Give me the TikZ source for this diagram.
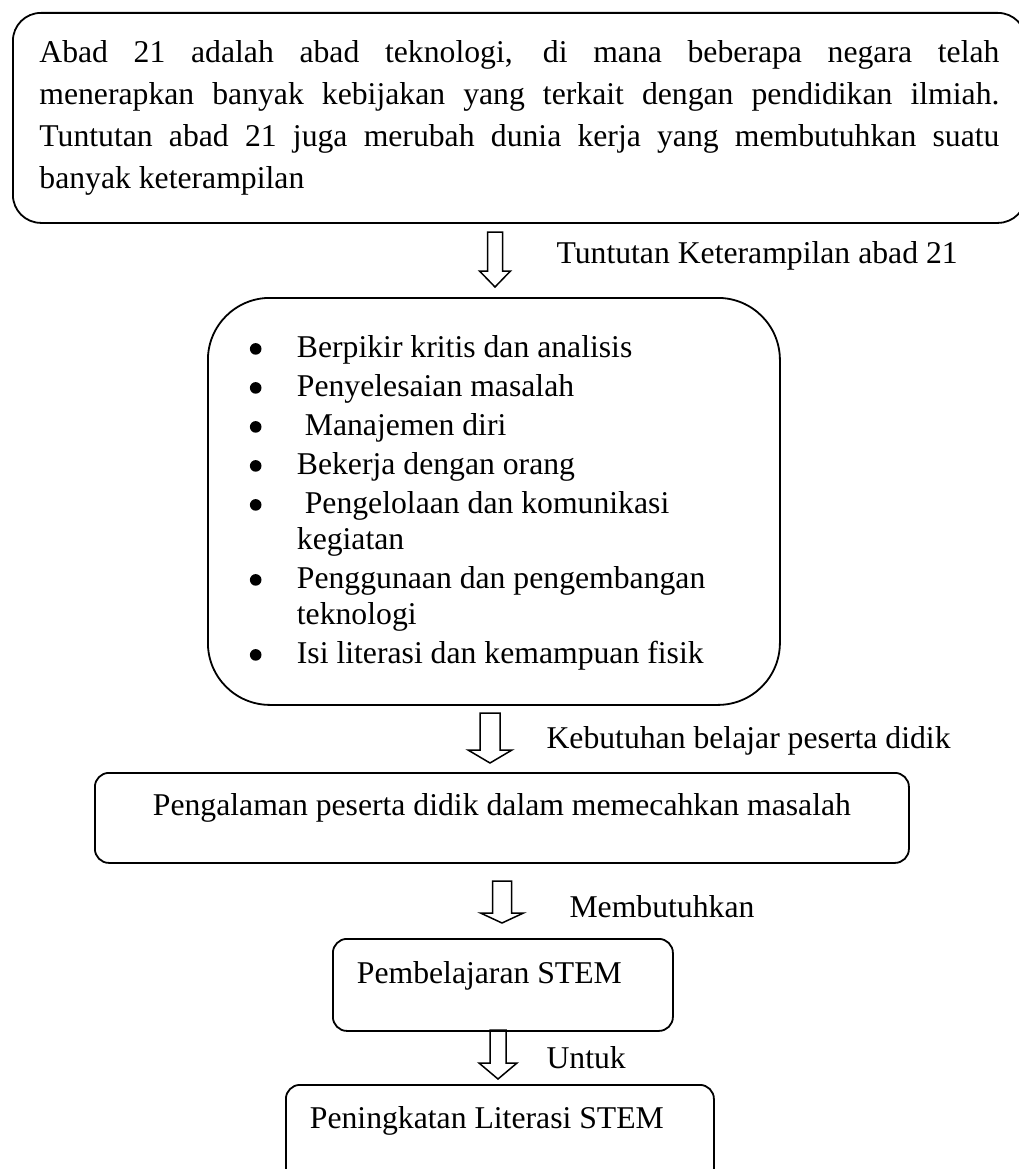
\documentclass[tikz,border=0pt]{standalone}
\usepackage{fontspec}
\setmainfont{Liberation Serif}
\usetikzlibrary{calc}

\newcommand{\itm}{\makebox[47pt][l]{\tikz[baseline={(0pt,-9pt)}]\path[fill=black, draw=none] (0pt,0pt) circle (5.8pt);}}

\tikzset{
  panel/.style={draw, line width=1.8pt, inner sep=0pt, anchor=north west},
  note/.style={anchor=base west},
  blockarrow/.style n args={3}{line width=1.5pt,
    to path={let \p1=(\tikztostart), \p2=(\tikztotarget) in
      (\x1-#1,\y1) -- (\x1+#1,\y1) -- (\x1+#1,\y2+#3) -- (\x1+#2,\y2+#3)
      -- (\x1,\y2) -- (\x1-#2,\y2+#3) -- (\x1-#1,\y2+#3) -- cycle}}
}

\begin{document}
\begin{tikzpicture}[x=1pt, y=-1pt, font=\fontsize{31.7}{36}\selectfont]
        \useasboundingbox (0,0) rectangle (1019,1169);

        % Top box: abad 21
        \node[panel, rounded corners=28pt, minimum width=1013pt, text height=50pt, text depth=160pt,
              text width=960pt, align=justify] (abad) at (12,12)
          {\baselineskip=42pt \tolerance=10000 \hyphenpenalty=10000
           Abad 21 adalah abad teknologi, di mana beberapa negara telah\linebreak
           menerapkan banyak kebijakan yang terkait dengan pendidikan ilmiah.\linebreak
           Tuntutan abad 21 juga merubah dunia kerja yang membutuhkan suatu\linebreak
           banyak keterampilan\par};

        % Skills list
        \node[panel, rounded corners=62pt, minimum width=572pt, text height=60pt, text depth=347pt,
              inner xsep=42pt, text width=488pt, align=flush left] (skills) at (207,297)
          {\itm Berpikir kritis dan analisis\\[3pt]
           \itm Penyelesaian masalah\\[3pt]
           \itm \ Manajemen diri\\[3pt]
           \itm Bekerja dengan orang\\[3pt]
           \itm \ Pengelolaan dan komunikasi\\
           \hspace*{47pt}kegiatan\\[3pt]
           \itm Penggunaan dan pengembangan\\
           \hspace*{47pt}teknologi\\[3pt]
           \itm Isi literasi dan kemampuan fisik};

        % Pengalaman box
        \node[panel, rounded corners=14pt, minimum width=814pt, text height=43pt, text depth=47pt] (pengalaman) at (94,772)
          {Pengalaman peserta didik dalam memecahkan masalah};

        % STEM boxes
        \node[panel, rounded corners=14pt, inner xsep=24pt, text width=292pt, align=flush left,
              text height=45pt, text depth=47pt] (pembelajaran) at (332,938) {Pembelajaran STEM};
        \node[panel, rounded corners=14pt, inner xsep=24pt, text width=380pt, align=flush left,
              text height=44pt, text depth=54pt] (literasi) at (285,1084) {Peningkatan Literasi STEM};

        % Arrows
        \coordinate (a1s) at (495,232);  \coordinate (a1e) at (495,287);
        \coordinate (a2s) at (490,713);  \coordinate (a2e) at (490,763);
        \coordinate (a3s) at (502,881);  \coordinate (a3e) at (502,923);
        \coordinate (a4s) at (498,1030); \coordinate (a4e) at (498,1079);
        \draw[blockarrow={7.5pt}{15.5pt}{16pt}] (a1s) to (a1e);
        \draw[blockarrow={10pt}{22pt}{13pt}] (a2s) to (a2e);
        \draw[blockarrow={9.5pt}{21.5pt}{10pt}] (a3s) to (a3e);
        \draw[blockarrow={8pt}{19pt}{16pt}] (a4s) to (a4e);

        % Arrow labels
        \node[note] (t1) at (553,263) {Tuntutan Keterampilan abad 21};
        \node[note] (t2) at (543,748) {Kebutuhan belajar peserta didik};
        \node[note] (t3) at (566,917) {Membutuhkan};
        \node[note] (t4) at (543,1068) {Untuk};
\end{tikzpicture}
\end{document}
